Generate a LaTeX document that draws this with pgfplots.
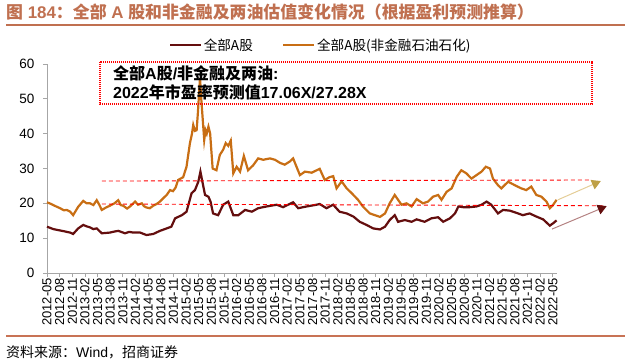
\documentclass[border=0pt]{standalone}
\usepackage{pgfplots}
\pgfplotsset{compat=1.18}
\usetikzlibrary{arrows.meta}
\usepackage{fontspec}
\setmainfont{Liberation Sans}
\newfontfamily\cjk{Noto Sans CJK SC}
\definecolor{darkred}{RGB}{100,14,14}
\definecolor{orng}{RGB}{200,110,20}
\definecolor{titlec}{RGB}{192,112,80}
\definecolor{rulec}{RGB}{200,115,85}
\definecolor{axgray}{RGB}{166,166,166}
\definecolor{goldline}{RGB}{228,205,150}
\definecolor{goldhead}{RGB}{190,160,70}
\definecolor{mauve}{RGB}{180,130,130}

\pgfplotstableread{
m v
0.0 13.3
1.5 12.6
2.7 12.3
4.0 12.0
4.7 11.8
5.5 11.6
6.2 11.2
7.4 12.8
8.6 13.8
9.4 13.4
10.2 13.1
11.0 12.6
11.8 12.8
13.0 11.4
14.0 11.5
14.9 11.6
16.0 11.9
16.9 12.1
18.5 11.4
19.5 11.8
20.5 11.6
22.1 11.6
23.6 10.9
25.2 11.2
26.8 12.1
28.4 12.8
29.5 13.3
30.4 15.7
32.0 16.6
33.1 17.6
34.3 22.9
35.1 23.8
35.9 26.2
36.4 29.1
37.1 24.8
37.5 22.4
38.3 21.9
38.8 20.5
39.4 17.1
40.6 16.6
41.8 19.6
43.0 20.5
44.2 16.6
45.4 16.6
47.0 18.1
48.6 17.6
50.1 18.6
52.1 19.1
54.5 19.6
56.0 18.9
58.4 20.3
59.6 18.6
61.6 19.1
63.5 19.5
64.7 19.8
66.3 18.6
67.9 19.6
69.4 17.6
71.1 17.1
72.7 16.2
74.2 14.7
75.8 13.8
77.4 12.8
79.0 12.5
80.2 13.3
81.3 15.2
82.5 16.6
83.3 14.7
84.9 15.2
86.5 14.7
87.7 15.4
89.6 14.7
91.2 15.7
92.8 16.0
94.0 14.7
95.6 15.7
96.8 17.1
97.6 19.1
98.7 18.9
100.3 18.9
101.9 19.1
103.1 19.6
104.3 20.5
105.4 19.6
107.0 17.1
108.2 18.1
109.8 17.9
111.3 17.3
112.9 16.6
114.5 17.1
116.1 16.2
117.7 15.4
119.3 13.6
120.1 14.3
120.9 15.1
}\allA

\pgfplotstableread{
m v
0.0 20.3
1.0 19.8
2.0 19.2
3.1 18.6
4.0 18.0
4.7 18.1
5.5 17.6
6.2 16.6
6.8 17.8
7.4 19.0
8.6 20.7
9.4 20.0
10.2 20.0
11.0 19.5
11.8 20.9
12.4 19.6
13.0 18.1
14.0 18.8
14.9 19.3
16.0 20.0
16.9 20.9
17.5 19.5
18.1 19.3
19.0 18.5
19.7 19.1
20.9 20.5
21.6 19.6
22.5 20.0
23.0 19.2
23.6 18.8
24.4 18.6
25.2 19.3
26.0 19.8
26.8 20.5
27.6 21.5
28.4 22.4
29.2 23.8
29.9 23.5
30.5 24.5
31.1 26.7
32.3 27.5
33.1 30.5
33.9 37.2
34.4 40.0
34.7 42.5
35.1 40.8
35.5 41.0
35.8 46.0
36.1 52.0
36.3 56.0
36.6 50.0
36.9 44.9
37.3 38.2
37.6 41.0
37.9 40.0
38.3 42.0
38.7 40.1
39.3 30.0
40.2 29.5
41.0 33.9
41.8 35.4
42.4 37.3
43.0 36.5
43.6 38.0
44.2 28.6
45.0 30.5
45.8 29.1
46.7 33.6
47.7 29.5
48.9 30.9
50.1 32.9
51.3 32.5
52.9 32.9
54.1 32.5
55.3 31.6
56.4 31.1
57.6 32.0
58.4 32.9
59.2 30.5
60.0 28.1
61.2 29.1
62.8 28.8
64.0 29.5
64.7 29.9
65.9 26.7
67.0 27.5
67.9 27.8
68.7 24.3
69.9 26.3
71.1 24.3
72.3 22.9
73.8 21.0
75.0 19.0
76.6 17.1
77.8 16.6
79.0 16.1
80.2 17.1
81.3 20.0
82.5 22.4
83.3 21.0
84.1 19.6
85.3 20.0
86.5 19.1
87.7 21.2
89.2 20.0
90.4 20.5
91.6 21.9
92.8 22.4
93.6 21.0
94.8 23.3
96.0 24.3
97.2 27.6
98.3 29.5
99.5 28.6
100.7 27.1
101.9 28.1
103.1 29.1
104.1 30.5
105.1 30.0
105.8 27.1
107.0 25.2
107.8 24.3
109.4 26.2
111.0 25.2
112.5 24.3
113.7 23.8
114.9 24.8
116.1 22.4
117.3 21.9
118.5 20.5
119.3 18.6
120.1 19.6
120.9 21.0
}\nonFin

\begin{document}
\begin{tikzpicture}
\begin{axis}[
  at={(47pt,90pt)}, anchor=south west,
  scale only axis, width=510pt, height=209pt,
  xmin=0, xmax=121, ymin=0, ymax=60,
  clip=false,
  axis x line*=bottom, axis y line*=left,
  axis line style={axgray, line width=0.8pt},
  tick style={axgray, line width=0.8pt},
  tick align=outside, major tick length=4pt,
  xtick={0,3,...,120},
  xticklabels={2012-05,2012-08,2012-11,2013-02,2013-05,2013-08,2013-11,2014-02,2014-05,2014-08,2014-11,2015-02,2015-05,2015-08,2015-11,2016-02,2016-05,2016-08,2016-11,2017-02,2017-05,2017-08,2017-11,2018-02,2018-05,2018-08,2018-11,2019-02,2019-05,2019-08,2019-11,2020-02,2020-05,2020-08,2020-11,2021-02,2021-05,2021-08,2021-11,2022-02,2022-05},
  xticklabel style={rotate=90, anchor=east, font=\fontsize{13}{13}\selectfont, inner sep=1pt},
  ytick={0,10,...,60},
  yticklabel style={font=\fontsize{13.5}{14}\selectfont, xshift=-5pt},
  /pgf/number format/assume math mode=true,
  legend columns=2,
  legend style={at={(0.239,1.091)}, anchor=west, draw=none, fill=none,
    inner xsep=0pt, inner ysep=0pt,
    font=\cjk\fontsize{13.6}{14}\selectfont,
    /tikz/every even column/.append style={column sep=28pt},
    nodes={inner sep=1.5pt}},
  legend image code/.code={\draw[#1] (0pt,0pt) -- (31pt,0pt);},
]
\addplot[darkred, line width=2.2pt] table[x=m,y=v] {\allA};
\addlegendentry{全部A股}
\addplot[orng, line width=2.2pt] table[x=m,y=v] {\nonFin};
\addlegendentry{全部A股(非金融石油石化)}

\addplot[red, line width=0.9pt, dash pattern=on 4pt off 3pt, forget plot] coordinates {(13,26.4) (129.3,26.7)};
\addplot[red, line width=0.9pt, dash pattern=on 4pt off 3pt, forget plot] coordinates {(13,19.8) (131.8,19.3)};
\addplot[goldline, line width=1pt, -{Triangle[length=9pt,width=10pt,color=goldhead]}, forget plot] coordinates {(121.2,21.0) (131.4,26.4)};
\addplot[mauve, line width=1pt, -{Triangle[length=9pt,width=10pt,color=darkred]}, forget plot] coordinates {(119.8,12.6) (132.8,19.2)};
\draw[red, line width=1.3pt, dash pattern=on 1pt off 1pt] (axis cs:12.6,60.6) rectangle (axis cs:129.3,48.5);
\end{axis}

\node[anchor=west, inner sep=0pt, font=\bfseries\fontsize{16}{16}\selectfont] at (113pt,290pt) {{\cjk 全部}A{\cjk 股}/{\cjk 非金融及两油}:};
\node[anchor=west, inner sep=0pt, font=\bfseries\fontsize{16}{16}\selectfont] at (113pt,271pt) {2022{\cjk 年市盈率预测值}17.06X/27.28X};

\node[anchor=west, inner sep=0pt, text=titlec, font=\bfseries\fontsize{16.9}{17}\selectfont] at (6pt,350.5pt) {{\cjk 图} 184{\cjk ：全部} A {\cjk 股和非金融及两油估值变化情况（根据盈利预测推算）}};
\draw[titlec, line width=1.2pt] (6pt,338pt) -- (625pt,338pt);
\draw[rulec, line width=2pt] (6pt,27pt) -- (625pt,27pt);
\node[anchor=west, inner sep=0pt, font=\fontsize{14}{14}\selectfont] at (6pt,11pt) {{\cjk 资料来源：}Wind{\cjk ，招商证券}};

\pgfresetboundingbox
\path (0pt,0pt) rectangle (629pt,363pt);
\end{tikzpicture}
\end{document}
